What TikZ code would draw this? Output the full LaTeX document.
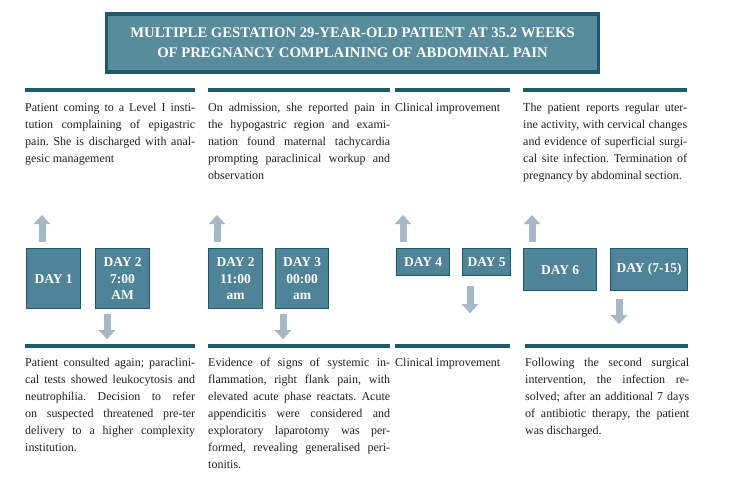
\documentclass[tikz,border=0pt]{standalone}
\usepackage{fontspec}
\setmainfont{Liberation Serif}
\usepackage{tikz}
\usetikzlibrary{arrows.meta,positioning}
\definecolor{tlteal}{RGB}{28,90,106}
\definecolor{tlbox}{RGB}{79,132,152}
\definecolor{tltitle}{RGB}{88,139,156}
\definecolor{tlarrow}{RGB}{166,184,200}
\definecolor{tltext}{RGB}{30,30,30}
\tikzstyle{daybox} = [rectangle, anchor=north west, inner sep=0pt, draw=tlteal, line width=1.2pt, fill=tlbox, text=white, font=\fontsize{13.5}{16.5}\selectfont\bfseries, align=center]
\tikzstyle{story} = [anchor=north west, inner sep=0pt, text=tltext, align=justify, font=\fontsize{12}{17}\selectfont\frenchspacing]
\tikzstyle{rule} = [line width=4pt, color=tlteal]
\tikzstyle{uparrow} = [line width=7pt, color=tlarrow, -{Triangle[width=16pt,length=9pt]}]
\begin{document}
\begin{tikzpicture}[x=1pt, y=-1pt]
\useasboundingbox (0,0) rectangle (732,477);

% Title
\node (title) [rectangle, draw=tlteal, line width=3.5pt, fill=tltitle, text=white, minimum width=492pt, minimum height=58pt, text depth=0pt, align=center, font=\fontsize{14.7}{20}\selectfont\bfseries] at (352.5,43) {MULTIPLE GESTATION 29-YEAR-OLD PATIENT AT 35.2 WEEKS\\OF PREGNANCY COMPLAINING OF ABDOMINAL PAIN};

% Rules above and below
\draw[rule] (25,90) -- (195,90);
\draw[rule] (208,90) -- (390,90);
\draw[rule] (395,90) -- (510,90);
\draw[rule] (523,90) -- (687,90);
\draw[rule] (25,346) -- (195,346);
\draw[rule] (208,346) -- (390,346);
\draw[rule] (395,346) -- (510,346);
\draw[rule] (525,346) -- (688,346);

% Upper texts
\node (top1) [story, text width=170pt] at (25,103) {Patient coming to a Level I insti-\linebreak tution complaining of epigastric\linebreak pain. She is discharged with anal-\linebreak gesic management};
\node (top2) [story, text width=182pt] at (208,103) {On admission, she reported pain in\linebreak the hypogastric region and exami-\linebreak nation found maternal tachycardia\linebreak prompting paraclinical workup and\linebreak observation};
\node (top3) [story, text width=115pt] at (395,103) {Clinical improvement};
\node (top4) [story, text width=164pt] at (523,103) {The patient reports regular uter-\linebreak ine activity, with cervical changes\linebreak and evidence of superficial surgi-\linebreak cal site infection. Termination of\linebreak pregnancy by abdominal section.};

% Day boxes
\node (day1) [daybox, minimum width=54pt, minimum height=60pt] at (26,248) {DAY 1};
\node (day2a) [daybox, minimum width=54pt, minimum height=60pt] at (95,248) {DAY 2\\7:00\\AM};
\node (day2b) [daybox, minimum width=54pt, minimum height=60pt] at (208,248) {DAY 2\\11:00\\am};
\node (day3) [daybox, minimum width=53pt, minimum height=60pt] at (275,248) {DAY 3\\00:00\\am};
\node (day4) [daybox, minimum width=53pt, minimum height=27pt] at (396,248) {DAY 4};
\node (day5) [daybox, minimum width=48pt, minimum height=27pt] at (462,248) {DAY 5};
\node (day6) [daybox, minimum width=73pt, minimum height=42pt] at (523,248) {DAY 6};
\node (day715) [daybox, minimum width=77pt, minimum height=42pt] at (610,248) {DAY (7-15)};

% Arrows
\draw[uparrow] (day1.north west) ++(16,-6) -- ++(0,-27);
\draw[uparrow] (day2b.north west) ++(9,-6) -- ++(0,-27);
\draw[uparrow] (day4.north west) ++(7,-6) -- ++(0,-27);
\draw[uparrow] (day6.north west) ++(9,-6) -- ++(0,-27);
\draw[uparrow] (day2a.south west) ++(12,5) -- ++(0,25);
\draw[uparrow] (day3.south west) ++(8,5) -- ++(0,25);
\draw[uparrow] (day5.south west) ++(8,10) -- ++(0,27);
\draw[uparrow] (day715.south west) ++(9,8) -- ++(0,25);

% Lower texts
\node (bot1) [story, text width=170pt] at (25,358) {Patient consulted again; paraclini-\linebreak cal tests showed leukocytosis and\linebreak neutrophilia. Decision to refer\linebreak on suspected threatened pre-ter\linebreak delivery to a higher complexity\linebreak institution.};
\node (bot2) [story, text width=182pt] at (208,358) {Evidence of signs of systemic in-\linebreak flammation, right flank pain, with\linebreak elevated acute phase reactats. Acute\linebreak appendicitis were considered and\linebreak exploratory laparotomy was per-\linebreak formed, revealing generalised peri-\linebreak tonitis.};
\node (bot3) [story, text width=115pt] at (395,358) {Clinical improvement};
\node (bot4) [story, text width=164pt] at (525,358) {Following the second surgical\linebreak intervention, the infection re-\linebreak solved; after an additional 7 days\linebreak of antibiotic therapy, the patient\linebreak was discharged.};
\end{tikzpicture}
\end{document}
